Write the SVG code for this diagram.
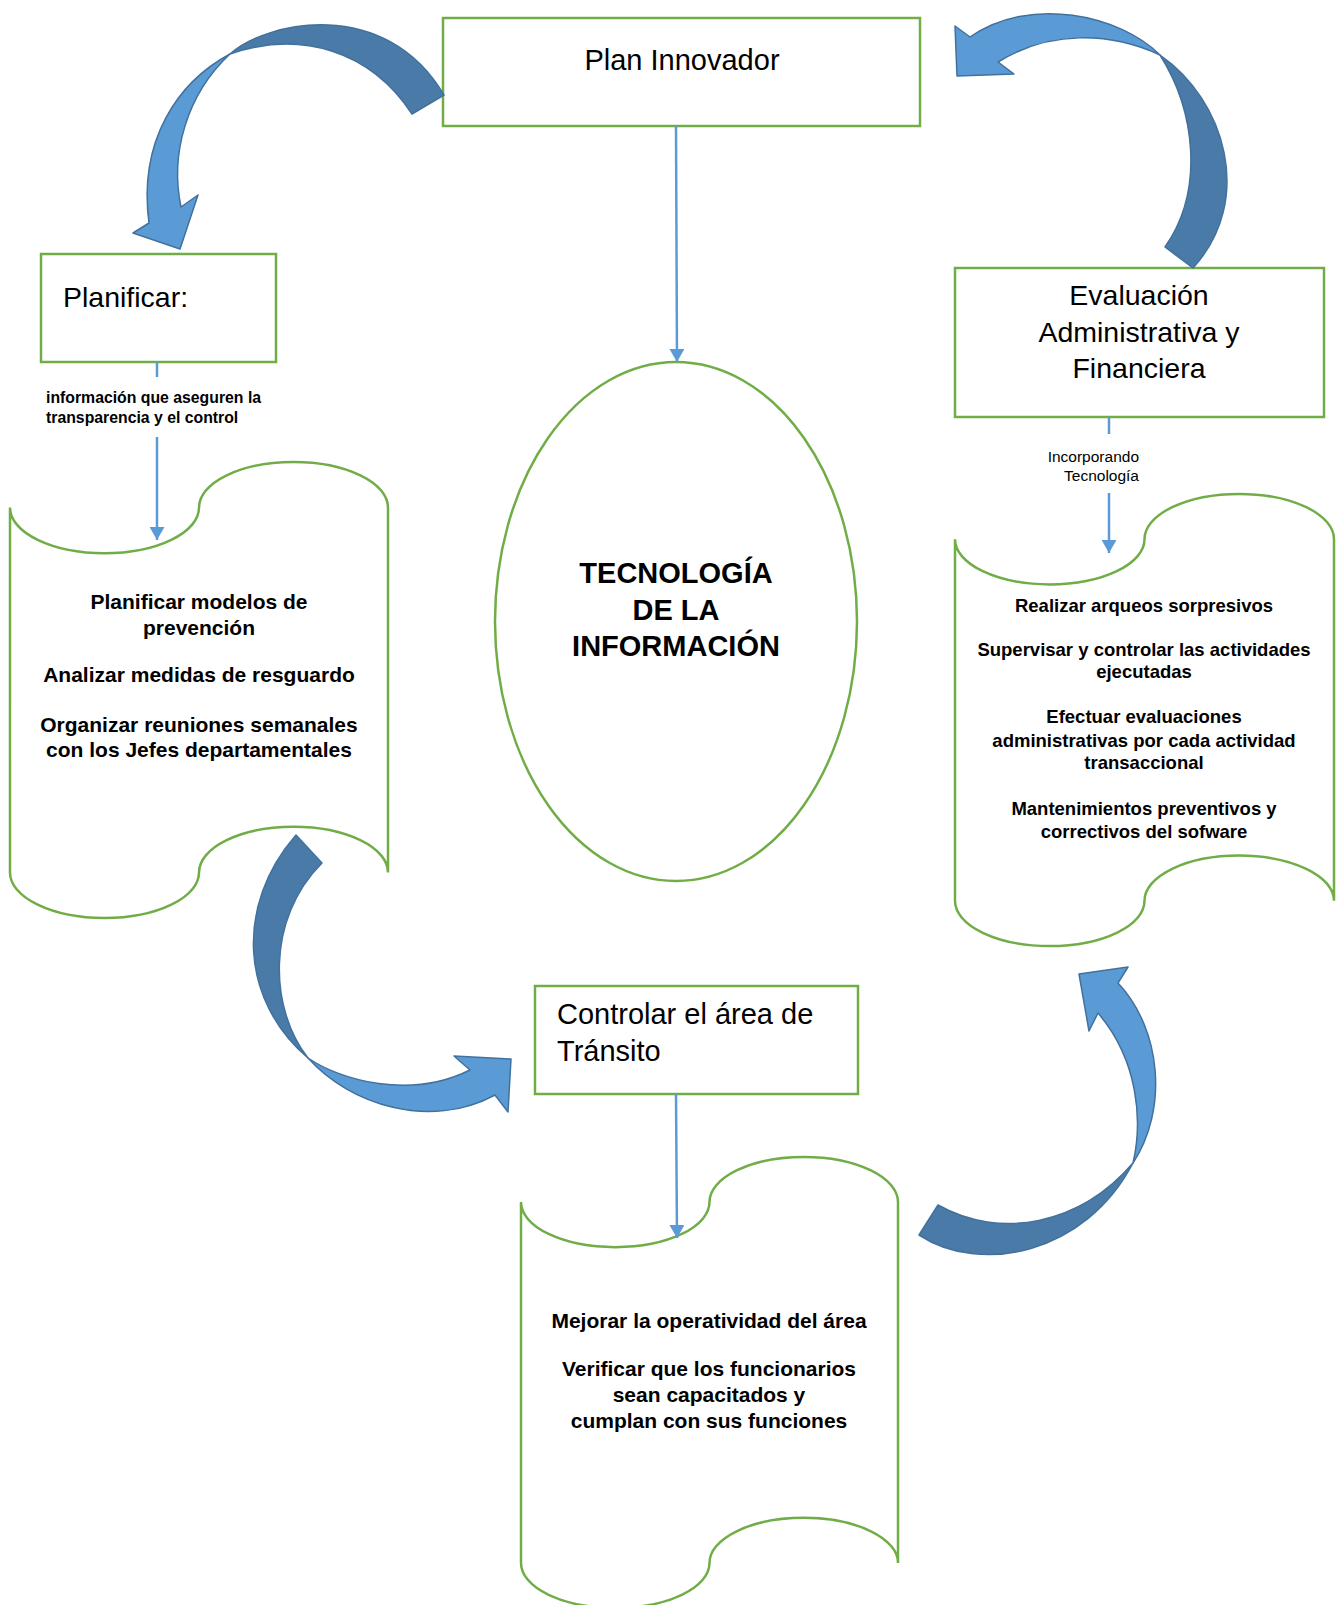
<svg xmlns="http://www.w3.org/2000/svg" width="1336" height="1605" viewBox="0 0 1336 1605">
<style>
.box{fill:#fff;stroke:#70AD47;stroke-width:2.5}
.doc{fill:#fff;stroke:#70AD47;stroke-width:2.5}
.con{fill:none;stroke:#5B9BD5;stroke-width:2.5}
.lt{fill:#5B9BD5;stroke:#41719C;stroke-width:1.5;stroke-linejoin:round}
.dk{fill:#4A7BA8;stroke:#41719C;stroke-width:1.5;stroke-linejoin:round}
.t{font-family:"Liberation Sans",Arial,sans-serif;fill:#000}
.big{font-size:29px}
.b{font-weight:bold}
</style>
<defs>
<marker id="ah" viewBox="0 0 13 15" markerWidth="13" markerHeight="15" refX="13" refY="7.5" orient="auto" markerUnits="userSpaceOnUse">
<path d="M0,0 L13,7.5 L0,15 Z" fill="#5B9BD5"/>
</marker>
</defs>
<rect width="1336" height="1605" fill="#fff"/>

<g id="plan-innovador">
<rect class="box" x="443" y="18" width="477" height="108"/>
<text class="t big" x="682" y="70" text-anchor="middle">Plan Innovador</text>
</g>

<g id="planificar">
<rect class="box" x="41" y="254" width="235" height="108"/>
<text class="t" x="63" y="307" font-size="28.5">Planificar:</text>
</g>

<g id="evaluacion">
<rect class="box" x="955" y="268" width="369" height="149"/>
<text class="t" font-size="28.5" text-anchor="middle"><tspan x="1139" y="305">Evaluación</tspan><tspan x="1139" y="342">Administrativa y</tspan><tspan x="1139" y="378">Financiera</tspan></text>
</g>

<g id="controlar">
<rect class="box" x="535" y="986" width="323" height="108"/>
<text class="t big"><tspan x="557" y="1024">Controlar el área de</tspan><tspan x="557" y="1061">Tránsito</tspan></text>
</g>

<g id="tecnologia">
<ellipse cx="676" cy="621.5" rx="181" ry="259.5" fill="#fff" stroke="#70AD47" stroke-width="2.5"/>
<text class="t b" font-size="29" text-anchor="middle"><tspan x="676" y="583">TECNOLOGÍA</tspan><tspan x="676" y="620">DE LA</tspan><tspan x="676" y="656">INFORMACIÓN</tspan></text>
</g>

<g id="doc-planificar">
<path class="doc" d="M10,507.6 A94.5,45.6 0 0 0 199,507.6 A94.5,45.6 0 0 1 388,507.6 L388,872.4 A94.5,45.6 0 0 0 199,872.4 A94.5,45.6 0 0 1 10,872.4 Z"/>
<text class="t b" font-size="21" text-anchor="middle"><tspan x="199" y="609">Planificar modelos de</tspan><tspan x="199" y="635">prevención</tspan><tspan x="199" y="682">Analizar medidas de resguardo</tspan><tspan x="199" y="732">Organizar reuniones semanales</tspan><tspan x="199" y="757">con los Jefes departamentales</tspan></text>
</g>

<g id="doc-evaluacion">
<path class="doc" d="M955,539.2 A94.75,45.2 0 0 0 1144.5,539.2 A94.75,45.2 0 0 1 1334,539.2 L1334,900.8 A94.75,45.2 0 0 0 1144.5,900.8 A94.75,45.2 0 0 1 955,900.8 Z"/>
<text class="t b" font-size="18.5" text-anchor="middle"><tspan x="1144" y="612">Realizar arqueos sorpresivos</tspan><tspan x="1144" y="656">Supervisar y controlar las actividades</tspan><tspan x="1144" y="678">ejecutadas</tspan><tspan x="1144" y="723">Efectuar evaluaciones</tspan><tspan x="1144" y="747">administrativas por cada actividad</tspan><tspan x="1144" y="769">transaccional</tspan><tspan x="1144" y="815">Mantenimientos preventivos y</tspan><tspan x="1144" y="838">correctivos del sofware</tspan></text>
</g>

<g id="doc-controlar">
<path class="doc" d="M521,1202.1 A94.25,45.1 0 0 0 709.5,1202.1 A94.25,45.1 0 0 1 898,1202.1 L898,1562.9 A94.25,45.1 0 0 0 709.5,1562.9 A94.25,45.1 0 0 1 521,1562.9 Z"/>
<text class="t b" font-size="21" text-anchor="middle"><tspan x="709" y="1328">Mejorar la operatividad del área</tspan><tspan x="709" y="1376">Verificar que los funcionarios</tspan><tspan x="709" y="1402">sean capacitados y</tspan><tspan x="709" y="1428">cumplan con sus funciones</tspan></text>
</g>

<g id="connectors">
<line class="con" x1="676" y1="126" x2="677" y2="362" marker-end="url(#ah)"/>
<line class="con" x1="157" y1="362" x2="157" y2="377"/>
<line class="con" x1="157" y1="437" x2="157" y2="540" marker-end="url(#ah)"/>
<text class="t b" font-size="15.8"><tspan x="46" y="403">información que aseguren la</tspan><tspan x="46" y="423">transparencia y el control</tspan></text>
<line class="con" x1="1109" y1="417" x2="1109" y2="434"/>
<line class="con" x1="1109" y1="493" x2="1109" y2="553" marker-end="url(#ah)"/>
<text class="t" font-size="15.5" text-anchor="end"><tspan x="1139" y="462">Incorporando</tspan><tspan x="1139" y="481">Tecnología</tspan></text>
<line class="con" x1="676" y1="1094" x2="677" y2="1238" marker-end="url(#ah)"/>
</g>

<g id="curved-arrows">
<g id="arrow-plan-to-planificar">
<path class="dk" d="M230,54 C265,22 385,-5 444,95 L412,114 C370,50 300,30 230,54 Z"/>
<path class="lt" d="M230,54 C178,82 138,140 149,223 L133,233 L180,249 L198,195 L181,207 C170,155 186,95 230,54 Z"/>
</g>
<g id="arrow-evaluacion-to-plan">
<path class="dk" d="M1160,55 C1225,100 1255,200 1193,268 L1165,247 C1205,190 1195,110 1160,55 Z"/>
<path class="lt" d="M1160,55 C1120,15 1030,-5 970,37 L955,26 L957,76 L1014,74 L998,62 C1050,30 1110,32 1160,55 Z"/>
</g>
<g id="arrow-planificar-to-controlar">
<path class="dk" d="M296,835 L322,863 C265,920 270,1010 308,1058 C240,1000 235,905 296,835 Z"/>
<path class="lt" d="M308,1058 C350,1105 430,1130 495,1095 L508,1112 L511,1059 L454,1056 L470,1070 C410,1100 340,1080 308,1058 Z"/>
</g>
<g id="arrow-controlar-to-evaluacion">
<path class="dk" d="M919,1235 C980,1275 1085,1255 1133,1163 C1080,1225 1000,1240 938,1205 Z"/>
<path class="lt" d="M1133,1163 C1168,1110 1162,1030 1118,983 L1128,967 L1079,974 L1089,1031 L1098,1013 C1138,1060 1143,1120 1133,1163 Z"/>
</g>
</g>
</svg>
